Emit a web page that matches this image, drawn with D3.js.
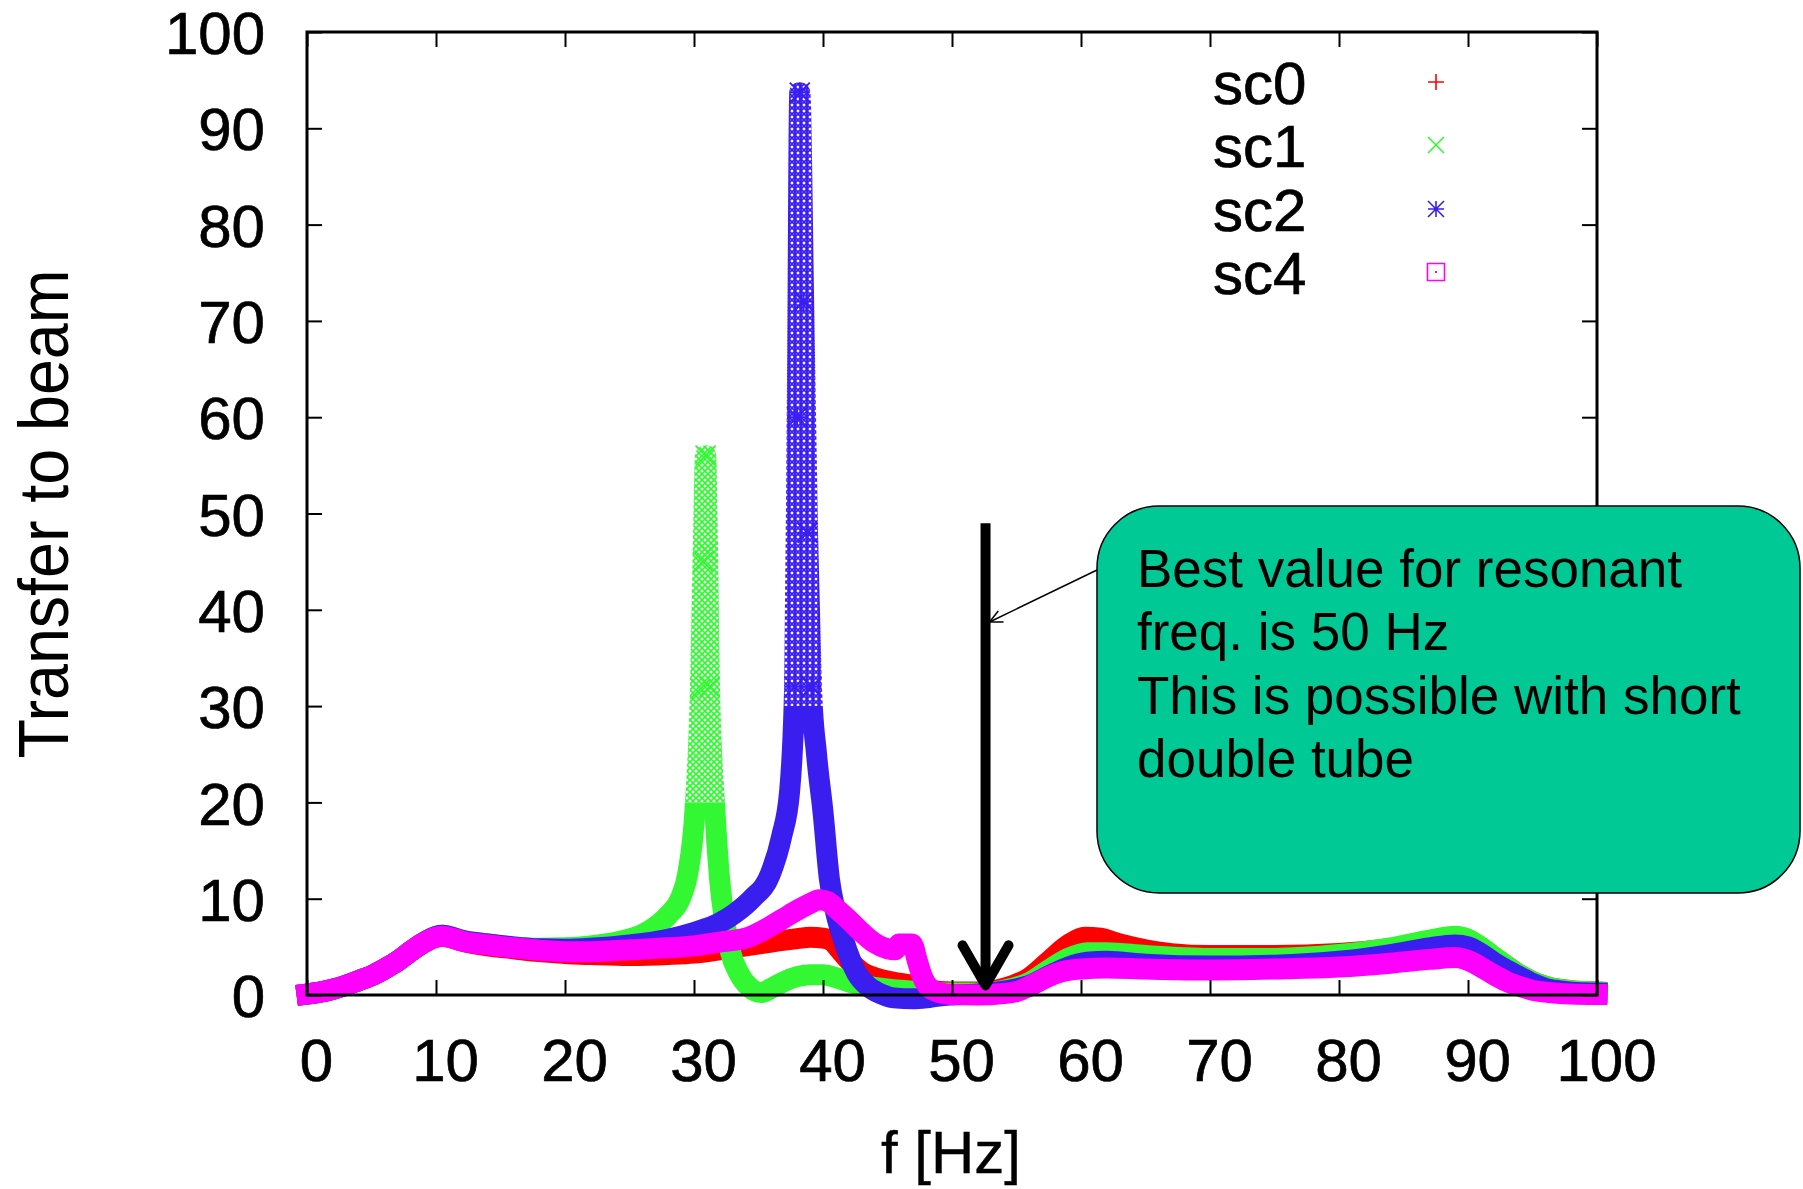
<!DOCTYPE html>
<html>
<head>
<meta charset="utf-8">
<script src="https://cdn.jsdelivr.net/npm/d3@7"></script>
<style>
  html, body { margin: 0; padding: 0; background: #ffffff; }
  svg { display: block; font-family: "Liberation Sans", Arial, Helvetica, sans-serif; }
</style>
</head>
<body>
<svg id="chart" width="1803" height="1189"></svg>
<script>
// ---- data -------------------------------------------------------------
const xTicks = [0, 10, 20, 30, 40, 50, 60, 70, 80, 90, 100];
const yTicks = [0, 10, 20, 30, 40, 50, 60, 70, 80, 90, 100];
const seriesNames = ["sc0", "sc1", "sc2", "sc4"];

// sc0
const sc0F = [0,1,2,3,4,5,6,7,8,9,10,10.5,11,12,14,16,18,20,22,25,28,30,32,34,36,38,39,40,40.7,41.3,42,43,44,45,46,47,48,50,52,54,56,57.5,59,60.3,61.5,63,65,67,70,75,80,84,87,89,90,91,92,93,94,95,96,97,98,100];
const sc0V = [0.1,0.3,0.6,1.0,1.5,2.0,2.7,3.5,4.5,5.4,6.0,6.1,6.0,5.6,5.1,4.8,4.5,4.3,4.2,4.1,4.2,4.35,4.7,5.1,5.5,5.85,6.0,5.9,5.6,4.7,3.6,2.4,1.8,1.45,1.2,1.0,0.6,0.3,0.3,0.7,1.8,3.5,5.2,6.0,5.9,5.3,4.7,4.3,4.1,4.1,4.3,4.8,5.4,5.7,5.5,4.8,3.9,3.0,2.1,1.4,0.9,0.6,0.45,0.3];

// sc1
const sc1F = [0,1,2,3,4,5,6,7,8,9,10,10.5,11,12,14,16,18,20,22,24,26,27,28,29,29.5,30.1,30.5,30.7,30.9,31.05,31.2,31.6,32.0,32.4,32.8,33.5,34.3,35.2,36,37,38,39,40,41,42,43,44,46,48,50,52,54,56,57.5,59,60.5,62,65,70,75,80,84,87,89,90,91,92,93,94,95,96,97,98,100];
const sc1V = [0.1,0.3,0.6,1.0,1.5,2.0,2.7,3.5,4.5,5.4,6.1,6.2,6.1,5.7,5.3,5.0,4.85,4.9,5.1,5.5,6.3,7.1,8.3,10.2,12.5,19.7,31.8,45,56,46,32,19.7,11.8,7.5,4.6,2.2,0.8,0.25,0.7,1.4,1.9,2.1,2.1,1.8,1.35,1.0,0.8,0.5,0.3,0.2,0.2,0.5,1.3,2.6,3.8,4.4,4.4,4.1,3.8,3.8,4.2,4.9,5.7,6.1,5.8,5.0,4.0,3.0,2.1,1.4,0.9,0.6,0.45,0.3];

// sc2
const sc2F = [0,1,2,3,4,5,6,7,8,9,10,10.5,11,12,14,16,18,20,22,25,28,30,32,33.2,34.5,35.9,36.8,37.4,37.8,38.0,38.2,38.5,38.8,39.1,39.5,40,40.5,41,41.6,42.6,43.5,44.5,45.5,47,48,49,50,52,54,56,57.5,59,60.5,62,65,70,75,80,84,87,89,90,91,92,93,94,95,96,97,98,100];
const sc2V = [0.1,0.3,0.6,1.0,1.5,2.0,2.7,3.5,4.5,5.4,6.1,6.2,6.1,5.7,5.3,5.0,4.8,4.75,4.85,5.2,5.8,6.5,7.5,8.5,10,12.5,16.5,21,32,60,93.7,72,48,32,25,19,12,8.5,5.7,2.3,0.9,0.1,-0.3,-0.4,-0.3,-0.1,0.0,0.1,0.4,1.0,2.0,2.9,3.4,3.5,3.2,3.0,3.1,3.5,4.2,4.9,5.2,5.0,4.3,3.4,2.6,1.9,1.2,0.7,0.45,0.3,0.2];

// sc4
const sc4F = [0,1,2,3,4,5,6,7,8,9,10,10.5,11,12,14,16,18,20,22,25,28,30,32,34,36,37,38,39,39.7,40.4,41,42,43,44,45,45.6,45.9,46.9,47.3,47.7,48.2,49,50,52,54,55,56,57,58,59,60,62,65,70,75,80,84,87,89,90,91,92,93,94,95,96,98,100];
const sc4V = [0.1,0.3,0.6,1.0,1.5,2.0,2.7,3.5,4.5,5.4,6.0,6.1,6.0,5.6,5.2,4.9,4.65,4.5,4.5,4.7,4.9,5.1,5.5,5.9,7.2,8.0,8.8,9.5,9.9,9.7,9.0,7.8,6.5,5.4,4.8,4.7,5.3,5.3,3.6,1.9,0.8,0.25,0.05,0.0,0.15,0.35,0.9,1.6,2.2,2.55,2.7,2.8,2.7,2.6,2.7,2.9,3.3,3.7,3.9,3.6,2.9,2.1,1.4,0.9,0.5,0.3,0.1,0.05];

// ---- layout -----------------------------------------------------------
const W = 1803, H = 1189;
const plot = { left: 307, right: 1597, top: 32, bottom: 995 };
const FONT = 60;
const FAMILY = "'Liberation Sans', Arial, Helvetica, sans-serif";
const BAND = 21;

const svg = d3.select("#chart");
const x = d3.scaleLinear().domain([0, 100]).range([plot.left, plot.right]);
const y = d3.scaleLinear().domain([0, 100]).range([plot.bottom, plot.top]);

const series = [
  { name: seriesNames[0], f: sc0F, v: sc0V, color: "#ff0000", sym: "plus",  hatch: null },
  { name: seriesNames[1], f: sc1F, v: sc1V, color: "#33f733", sym: "cross", hatch: 20 },
  { name: seriesNames[2], f: sc2F, v: sc2V, color: "#3a1ef0", sym: "star",  hatch: 30 },
  { name: seriesNames[3], f: sc4F, v: sc4V, color: "#ff00ff", sym: "box",   hatch: null }
];

// point symbols in the gnuplot style
function symbolPath(kind, s) {
  const plus = `M${-s},0H${s}M0,${-s}V${s}`;
  const cross = `M${-s},${-s}L${s},${s}M${-s},${s}L${s},${-s}`;
  if (kind === "plus") return plus;
  if (kind === "cross") return cross;
  if (kind === "star") return plus + cross;
  return `M${-s},${-s}H${s}V${s}H${-s}Z`;
}

const defs = svg.append("defs");

// hatch patterns for the sparse, high-amplitude parts of the resonance peaks
function addHatch(id, color, withPlus, width) {
  const n = 6;
  const p = defs.append("pattern")
    .attr("id", id).attr("patternUnits", "userSpaceOnUse")
    .attr("width", n).attr("height", n);
  p.append("path")
    .attr("d", `M0,0L${n},${n}M${n},0L0,${n}` + (withPlus ? `M${n / 2},0V${n}` : ""))
    .attr("stroke", color).attr("stroke-width", width).attr("fill", "none");
}
addHatch("hatch-sc1", series[1].color, false, 1.8);
addHatch("hatch-sc2", series[2].color, true, 1.9);

const line = d3.line()
  .x(d => x(d[0]))
  .y(d => y(d[1]))
  .curve(d3.curveMonotoneX);

const dataLayer = svg.append("g");

series.forEach(s => {
  const pts = s.f.map((f, i) => [f, s.v[i]]);
  const g = dataLayer.append("g");
  const band = sel => sel
    .attr("fill", "none").attr("stroke-width", BAND)
    .attr("stroke-linejoin", "round").attr("stroke-linecap", "square");
  if (s.hatch === null) {
    g.append("path").attr("d", line(pts)).attr("stroke", s.color).call(band);
  } else {
    const cut = y(s.hatch);
    defs.append("clipPath").attr("id", `low-${s.name}`)
      .append("rect").attr("x", 0).attr("y", cut).attr("width", W).attr("height", H - cut);
    defs.append("clipPath").attr("id", `high-${s.name}`)
      .append("rect").attr("x", 0).attr("y", 0).attr("width", W).attr("height", cut);
    g.append("path").attr("d", line(pts)).attr("stroke", s.color)
      .attr("clip-path", `url(#low-${s.name})`).call(band);
    g.append("path").attr("d", line(pts)).attr("stroke", `url(#hatch-${s.name})`)
      .attr("clip-path", `url(#high-${s.name})`).call(band);
    // sample points on the sparse part of the peak
    g.selectAll("path.pt").data(pts.filter(d => d[1] >= s.hatch)).join("path")
      .attr("class", "pt")
      .attr("transform", d => `translate(${x(d[0])},${y(d[1])})`)
      .attr("d", symbolPath(s.sym, 10))
      .attr("fill", "none").attr("stroke", s.color).attr("stroke-width", 1.8);
  }
});

// ---- border and axes (drawn in front of the data) ----------------------
const axisStyle = g => {
  g.select(".domain").remove();
  g.selectAll(".tick line").attr("stroke", "#000").attr("stroke-width", 2);
  g.selectAll(".tick text").attr("fill", "#000").attr("font-size", FONT)
    .attr("font-family", FAMILY)
    .attr("stroke", "#000").attr("stroke-width", 0.7);
};

svg.append("g").attr("transform", `translate(0,${plot.bottom})`)
  .call(d3.axisBottom(x).tickValues(xTicks).tickSize(-15).tickPadding(43).tickFormat(d3.format("d")))
  .call(axisStyle)
  .call(g => g.selectAll(".tick text").attr("x", 9));

svg.append("g").attr("transform", `translate(${plot.left},0)`)
  .call(d3.axisLeft(y).tickValues(yTicks).tickSize(-15).tickPadding(42).tickFormat(d3.format("d")))
  .call(axisStyle)
  .call(g => g.selectAll(".tick text").attr("dy", "0.36em"));

svg.append("g").attr("transform", `translate(0,${plot.top})`)
  .call(d3.axisTop(x).tickValues(xTicks).tickSize(-15).tickFormat(""))
  .call(axisStyle);

svg.append("g").attr("transform", `translate(${plot.right},0)`)
  .call(d3.axisRight(y).tickValues(yTicks).tickSize(-15).tickFormat(""))
  .call(axisStyle);

svg.append("rect")
  .attr("x", plot.left).attr("y", plot.top)
  .attr("width", plot.right - plot.left).attr("height", plot.bottom - plot.top)
  .attr("fill", "none").attr("stroke", "#000").attr("stroke-width", 3);

// axis titles
svg.append("text")
  .attr("x", 951).attr("y", 1173)
  .attr("text-anchor", "middle").attr("font-size", FONT).attr("fill", "#000")
  .attr("stroke", "#000").attr("stroke-width", 0.4)
  .text("f [Hz]");

svg.append("text")
  .attr("transform", "translate(68,514) rotate(-90)")
  .attr("text-anchor", "middle").attr("font-size", 70).attr("fill", "#000")
  .attr("textLength", 489).attr("lengthAdjust", "spacingAndGlyphs")
  .text("Transfer to beam");

// ---- legend -------------------------------------------------------------
const legendBase = [104, 167, 231, 294];
const legend = svg.append("g");
series.forEach((s, i) => {
  legend.append("text")
    .attr("x", 1213).attr("y", legendBase[i])
    .attr("font-size", FONT).attr("fill", "#000")
    .attr("stroke", "#000").attr("stroke-width", 0.7)
    .text(s.name);
  legend.append("path")
    .attr("transform", `translate(1436,${legendBase[i] - 22})`)
    .attr("d", symbolPath(s.sym, s.sym === "box" ? 8.5 : 8))
    .attr("fill", "none").attr("stroke", s.color).attr("stroke-width", 1.6);
  if (s.sym === "box") {
    legend.append("rect")
      .attr("x", 1435).attr("y", legendBase[i] - 23)
      .attr("width", 2).attr("height", 2).attr("fill", s.color);
  }
});

// ---- annotation: arrow and callout --------------------------------------
const arrowF = 52.6, arrowTopV = 49, arrowTipV = 1.0;
const ax = x(arrowF), aTop = y(arrowTopV), aTip = y(arrowTipV);
const ann = svg.append("g");
ann.append("line")
  .attr("x1", ax).attr("x2", ax).attr("y1", aTop).attr("y2", aTip)
  .attr("stroke", "#000").attr("stroke-width", 10);
ann.append("path")
  .attr("d", `M${ax - 23},${aTip - 40}L${ax},${aTip}L${ax + 23},${aTip - 40}`)
  .attr("fill", "none").attr("stroke", "#000").attr("stroke-width", 10)
  .attr("stroke-linecap", "round").attr("stroke-linejoin", "round");

const box = { x: 1097, y: 506, w: 703, h: 387, r: 62 };
// pointer from the callout to the arrow shaft
const p0 = [box.x, 570], p1 = [ax + 4, 622];
ann.append("line")
  .attr("x1", p0[0]).attr("y1", p0[1]).attr("x2", p1[0]).attr("y2", p1[1])
  .attr("stroke", "#000").attr("stroke-width", 1.5);
{
  const ang = Math.atan2(p0[1] - p1[1], p0[0] - p1[0]);
  const L = 14, spread = 0.45;
  const a1 = [p1[0] + L * Math.cos(ang + spread), p1[1] + L * Math.sin(ang + spread)];
  const a2 = [p1[0] + L * Math.cos(ang - spread), p1[1] + L * Math.sin(ang - spread)];
  ann.append("path")
    .attr("d", `M${a1[0]},${a1[1]}L${p1[0]},${p1[1]}L${a2[0]},${a2[1]}`)
    .attr("fill", "none").attr("stroke", "#000").attr("stroke-width", 1.5);
}

ann.append("rect")
  .attr("x", box.x).attr("y", box.y).attr("width", box.w).attr("height", box.h)
  .attr("rx", box.r).attr("ry", box.r)
  .attr("fill", "#00c995").attr("stroke", "#000").attr("stroke-width", 1.5);

const calloutLines = [
  "Best value for resonant",
  "freq. is 50 Hz",
  "This is possible with short",
  "double tube"
];
ann.selectAll("text.callout").data(calloutLines).join("text")
  .attr("class", "callout")
  .attr("x", 1137)
  .attr("y", (d, i) => 587 + i * 63.3)
  .attr("font-size", 53).attr("fill", "#000")
  .text(d => d);
</script>
</body>
</html>
